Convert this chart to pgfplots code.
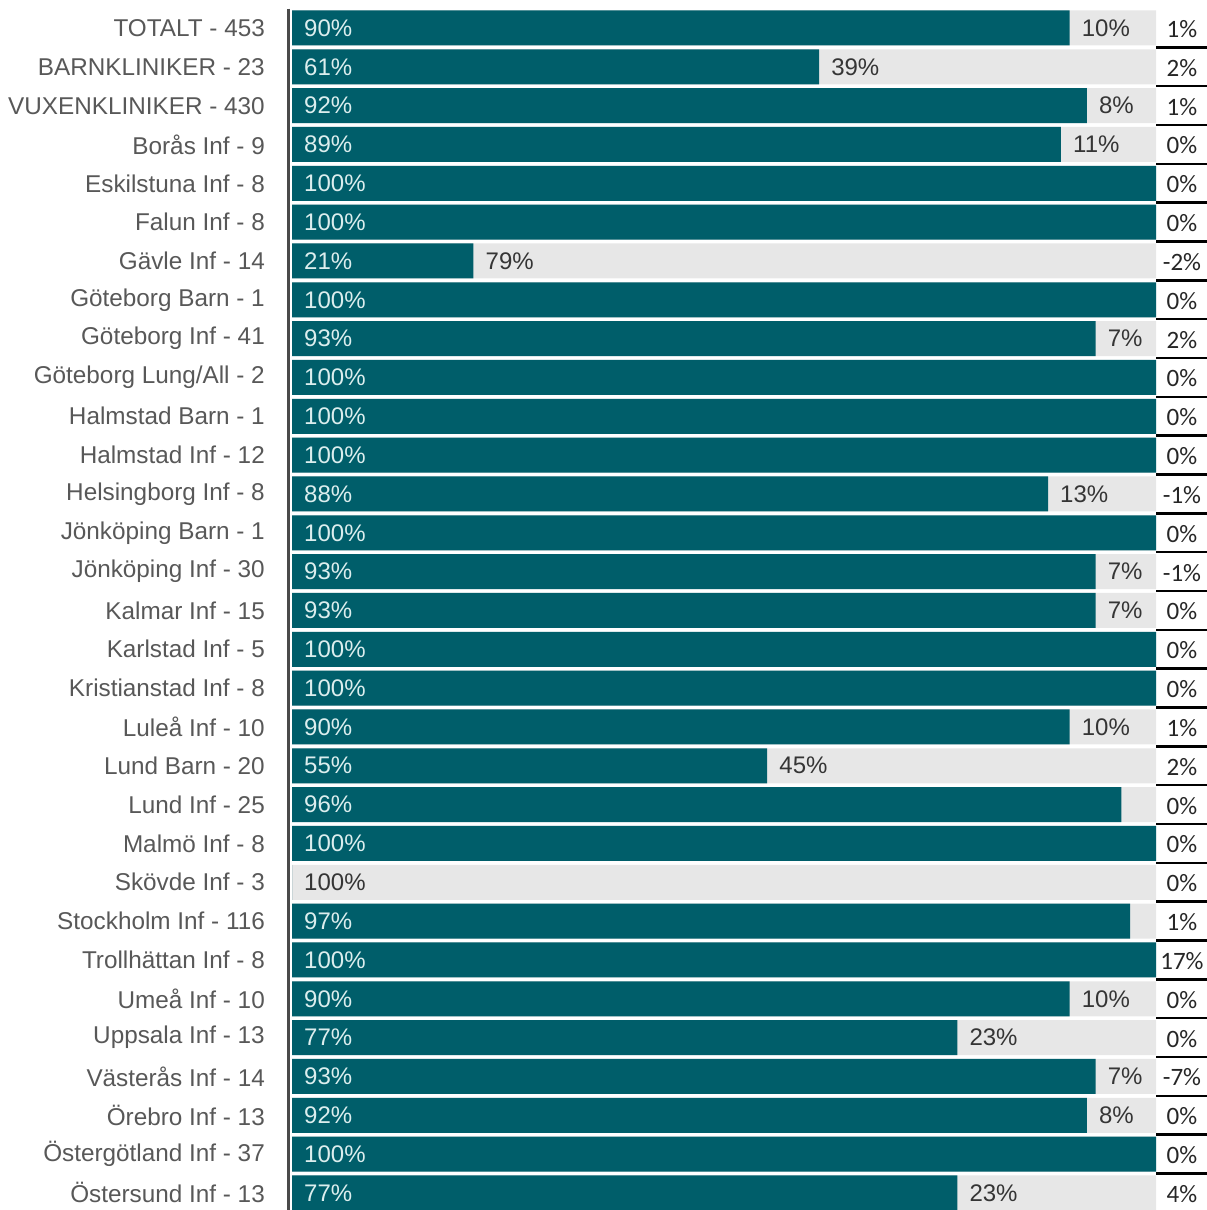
\documentclass[border=0pt]{standalone}
\usepackage{pgfplots}
\pgfplotsset{compat=1.18}
\usepackage{pgfplotstable}
\usepackage{fontspec}
\setmainfont{Liberation Sans}
\newfontfamily\calib{Carlito}
\definecolor{tealbar}{HTML}{005E6A}
\definecolor{bggray}{HTML}{E7E7E7}
\definecolor{lblgray}{HTML}{585858}
\definecolor{axgray}{HTML}{4A4A4A}
\definecolor{tlab}{HTML}{DCEEEE}
\definecolor{glab}{HTML}{353535}

\pgfplotstableread{
y teal full
0 90 100
1 61 100
2 92 100
3 89 100
4 100 100
5 100 100
6 21 100
7 100 100
8 93 100
9 100 100
10 100 100
11 100 100
12 87.5 100
13 100 100
14 93 100
15 93 100
16 100 100
17 100 100
18 90 100
19 55 100
20 96 100
21 100 100
22 0 100
23 97 100
24 100 100
25 90 100
26 77 100
27 93 100
28 92 100
29 100 100
30 77 100
}\bars

\pgfplotstableread{
y x lab
0 0 90
1 0 61
2 0 92
3 0 89
4 0 100
5 0 100
6 0 21
7 0 100
8 0 93
9 0 100
10 0 100
11 0 100
12 0 88
13 0 100
14 0 93
15 0 93
16 0 100
17 0 100
18 0 90
19 0 55
20 0 96
21 0 100
23 0 97
24 0 100
25 0 90
26 0 77
27 0 93
28 0 92
29 0 100
30 0 77
}\tealabels

\pgfplotstableread{
y x lab
0 90 10
1 61 39
2 92 8
3 89 11
6 21 79
8 93 7
12 87.5 13
14 93 7
15 93 7
18 90 10
19 55 45
22 0 100
25 90 10
26 77 23
27 93 7
28 92 8
30 77 23
}\graylabels

\pgfplotstableread{
y x lab
0 103 1
1 103 2
2 103 1
3 103 0
4 103 0
5 103 0
6 103 -2
7 103 0
8 103 2
9 103 0
10 103 0
11 103 0
12 103 -1
13 103 0
14 103 -1
15 103 0
16 103 0
17 103 0
18 103 1
19 103 2
20 103 0
21 103 0
22 103 0
23 103 1
24 103 17
25 103 0
26 103 0
27 103 -7
28 103 0
29 103 0
30 103 4
}\difflabels

\pgfplotstableread{
y x
0.5 103
1.5 103
2.5 103
3.5 103
4.5 103
5.5 103
6.5 103
7.5 103
8.5 103
9.5 103
10.5 103
11.5 103
12.5 103
13.5 103
14.5 103
15.5 103
16.5 103
17.5 103
18.5 103
19.5 103
20.5 103
21.5 103
22.5 103
23.5 103
24.5 103
25.5 103
26.5 103
27.5 103
28.5 103
29.5 103
}\underlines

\begin{document}
\begin{tikzpicture}
\path[use as bounding box] (-289pt,0pt) rectangle (918pt,1210pt);
\begin{axis}[
  at={(0pt,0pt)}, anchor=south west,
  scale only axis, width=918pt, height=1201.4pt,
  xmin=-0.35, xmax=105.9, ymin=-0.5, ymax=30.44,
  y dir=reverse,
  axis x line=none,
  axis y line*=left,
  y axis line style={draw=axgray, line width=3pt},
  xtick=\empty,
  ytick={0,...,30},
  yticklabels={TOTALT - 453, BARNKLINIKER - 23, VUXENKLINIKER - 430, Borås Inf - 9, Eskilstuna Inf - 8, Falun Inf - 8, Gävle Inf - 14, Göteborg Barn - 1, Göteborg Inf - 41, Göteborg Lung/All - 2, Halmstad Barn - 1, Halmstad Inf - 12, Helsingborg Inf - 8, Jönköping Barn - 1, Jönköping Inf - 30, Kalmar Inf - 15, Karlstad Inf - 5, Kristianstad Inf - 8, Luleå Inf - 10, Lund Barn - 20, Lund Inf - 25, Malmö Inf - 8, Skövde Inf - 3, Stockholm Inf - 116, Trollhättan Inf - 8, Umeå Inf - 10, Uppsala Inf - 13, Västerås Inf - 14, Örebro Inf - 13, Östergötland Inf - 37, Östersund Inf - 13},
  major tick length=0pt,
  yticklabel style={font=\fontsize{24.3}{28}\selectfont, text=lblgray, inner sep=0pt, xshift=-24pt},
  clip=false,
]
\addplot[xbar, bar width=35pt, bar shift=0pt, fill=bggray, draw=none] table[x=full, y=y] {\bars};
\addplot[xbar, bar width=35pt, bar shift=0pt, fill=tealbar, draw=none] table[x=teal, y=y] {\bars};

\addplot[draw=none, nodes near coords={\pgfplotspointmeta\%}, point meta=explicit symbolic,
  nodes near coords align=horizontal,
  every node near coord/.append style={anchor=west, inner sep=0pt, xshift=12pt, text=tlab, font=\fontsize{24}{28}\selectfont}]
  table[x=x, y=y, meta=lab] {\tealabels};

\addplot[draw=none, nodes near coords={\pgfplotspointmeta\%}, point meta=explicit symbolic,
  nodes near coords align=horizontal,
  every node near coord/.append style={anchor=west, inner sep=0pt, xshift=12pt, text=glab, font=\fontsize{24}{28}\selectfont}]
  table[x=x, y=y, meta=lab] {\graylabels};

\addplot[draw=none, nodes near coords={\pgfplotspointmeta\%}, point meta=explicit symbolic,
  every node near coord/.append style={anchor=center, inner sep=0pt, yshift=-1pt, text=black!85, font=\calib\fontsize{25}{28}\selectfont}]
  table[x=x, y=y, meta=lab] {\difflabels};

\addplot[draw=none, error bars/.cd, x dir=both, x fixed=3, error mark=none,
  error bar style={black, line width=2.5pt}]
  table[x=x, y=y] {\underlines};
\end{axis}
\end{tikzpicture}
\end{document}
